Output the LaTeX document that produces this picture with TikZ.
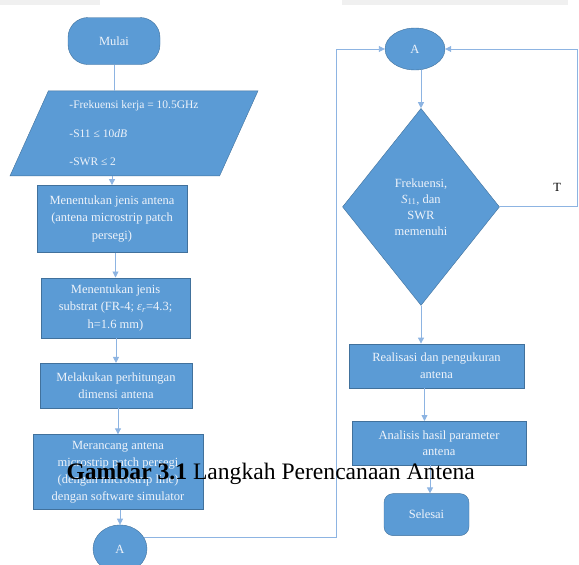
\documentclass[tikz,border=0pt]{standalone}
\usepackage{fontspec}
\setmainfont{Liberation Serif}
\usepackage{xcolor}
\usepackage{tikz}
\usetikzlibrary{arrows.meta,positioning,shapes.geometric}
\definecolor{boxblue}{HTML}{5B9BD5}
\definecolor{boxline}{HTML}{41719C}
\definecolor{boxtext}{HTML}{EEF3FA}
\definecolor{connblue}{HTML}{8DB4E2}
\definecolor{pagegrey}{HTML}{F0F0F0}

\begin{document}
\begin{tikzpicture}[
  x=1pt, y=-1pt,
  font=\fontsize{12.5}{17.5}\selectfont,
  box/.style={draw=boxline, fill=boxblue, text=boxtext, align=center, inner sep=2pt},
  term/.style={box, rounded corners=20pt},
  io/.style={box, trapezium, trapezium left angle=59.5, trapezium right angle=120.5, trapezium stretches body, minimum width=248pt, minimum height=85pt, inner sep=0pt},
  decision/.style={box, diamond, aspect=0.8, inner sep=0pt, minimum width=157pt, minimum height=197pt, font=\fontsize{12.5}{16}\selectfont},
  connector/.style={box, ellipse, inner sep=0pt},
  arrow/.style={-{Triangle[length=6pt,width=6pt]}, draw=connblue, line width=0.9pt},
  line/.style={draw=connblue, line width=0.9pt}
]
  \useasboundingbox (0,0) rectangle (579,565);
  \fill[pagegrey] (0,0) rectangle (100,5);
  \fill[pagegrey] (342,0) rectangle (568,5);

  \node[term, minimum width=92pt, minimum height=47pt] (mulai) at (114,41) {Mulai};
  \node[io, below=26pt of mulai, xshift=20pt, align=left, font=\fontsize{11.5}{14}\selectfont] (param)
    {-Frekuensi kerja = 10.5GHz\\[15pt]-S11 ≤ 10\textit{dB}\\[14pt]-SWR ≤ 2};
  \node[box, below=9pt of param, xshift=-22pt, minimum width=150pt, minimum height=67pt] (jenis)
    {Menentukan jenis antena\\(antena microstrip patch\\persegi)};
  \node[box, below=25pt of jenis, xshift=3.5pt, minimum width=149pt, minimum height=60pt] (substrat)
    {Menentukan jenis\\substrat (FR-4; \textit{ε}\textsubscript{\textit{r}}=4.3;\\h=1.6 mm)};
  \node[box, below=25pt of substrat, xshift=0.5pt, minimum width=152pt, minimum height=45pt] (hitung)
    {Melakukan perhitungan\\dimensi antena};
  \node[box, below=26pt of hitung, xshift=2pt, minimum width=170pt, minimum height=75pt, font=\fontsize{12.5}{17}\selectfont] (rancang)
    {Merancang antena\\microstrip patch persegi\\(dengan microstrip line)\\dengan software simulator};
  \node[connector, below=15pt of rancang, xshift=2pt, minimum width=54pt, minimum height=48pt] (conA) {A};

  \node[connector, minimum width=60pt, minimum height=42pt] (conB) at (415,49) {A};
  \node[decision, below=38pt of conB, xshift=6pt] (cek)
    {Frekuensi,\\\textit{S}\textsubscript{11}, dan\\SWR\\memenuhi};
  \node[box, below=38pt of cek, xshift=15.5pt, minimum width=175pt, minimum height=44pt, font=\fontsize{12.5}{16.5}\selectfont] (realisasi)
    {Realisasi dan pengukuran\\antena};
  \node[box, below=33pt of realisasi, xshift=2.5pt, minimum width=174pt, minimum height=44pt, font=\fontsize{12.5}{16.5}\selectfont] (analisis)
    {Analisis hasil parameter\\antena};
  \node[term, rounded corners=9pt, below=28pt of analisis, xshift=-12.5pt, minimum width=85pt, minimum height=42pt] (selesai) {Selesai};

  \coordinate (loopL) at (336,49);
  \coordinate (loopR) at (577.5,49);

  \draw[line] (mulai.south) -- (mulai.south |- param.north);
  \draw[arrow] (jenis.north |- param.south) -- (jenis.north);
  \draw[arrow] (jenis.south -| substrat.north) -- (substrat.north);
  \draw[arrow] (substrat.south -| hitung.north) -- (hitung.north);
  \draw[arrow] (hitung.south -| rancang.north) -- (rancang.north);
  \draw[arrow] (rancang.south -| conA.north) -- (conA.north);
  \draw[arrow] (conA.25) -| (loopL) -- (conB.west);
  \draw[arrow] (conB.south -| cek.north) -- (cek.north);
  \draw[arrow] (cek.east) -- node[pos=0.74, above=12pt, text=black] (tidak) {T} (cek.east -| loopR) |- (conB.east);
  \draw[arrow] (cek.south) -- (cek.south |- realisasi.north);
  \draw[arrow] ([xshift=-12pt]realisasi.south) -- ([xshift=-12pt]realisasi.south |- analisis.north);
  \draw[arrow] ([xshift=-9pt]analisis.south) -- ([xshift=-9pt]analisis.south |- selesai.north);

  \node[anchor=base west, font=\fontsize{23.6}{28}\selectfont] (judul) at (63,479)
    {\textbf{Gambar 3.1} Langkah Perencanaan Antena};
\end{tikzpicture}
\end{document}
